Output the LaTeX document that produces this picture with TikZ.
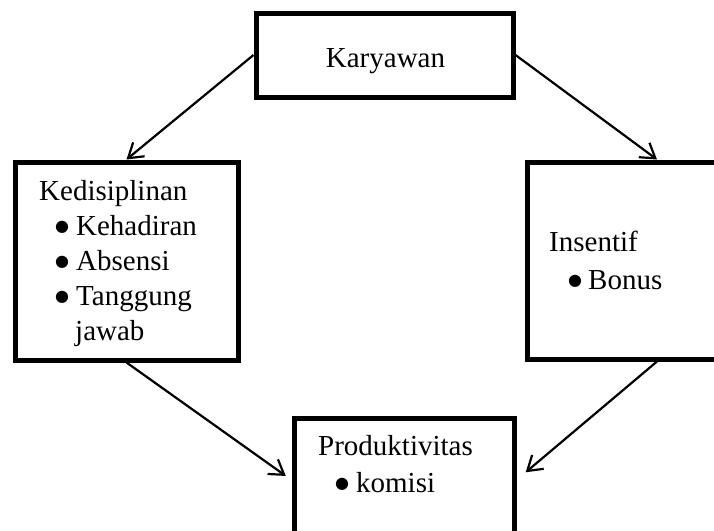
\documentclass[tikz,border=0pt]{standalone}
\usepackage{fontspec}
\setmainfont{Liberation Serif}
\newfontfamily\simbol{DejaVu Sans}
\usetikzlibrary{arrows.meta}
\newcommand{\butir}{\raisebox{4pt}{\simbol\fontsize{16}{16}\selectfont ●}}

\begin{document}
\begin{tikzpicture}[x=1pt, y=-1pt,
    font=\fontsize{29}{35}\selectfont,
    kotak/.style={draw, line width=5pt, inner sep=0pt},
    panah/.style={-{Straight Barb[length=14pt,width=18pt]}, line width=2.2pt},
    teks/.style={anchor=north west, inner sep=0pt, align=left}]
  \useasboundingbox (0,0) rectangle (714,530);
  \clip (0,0) rectangle (714,530);
  % kotak
  \node[kotak, minimum width=257pt, minimum height=84pt] (karyawan) at (384.5,55) {};
  \node[kotak, minimum width=223pt, minimum height=198pt] (disiplin) at (126.5,261) {};
  \node[kotak, minimum width=260pt, minimum height=197pt] (insentif) at (657,260.5) {};
  \node[kotak, minimum width=220pt, minimum height=124pt] (produktif) at (404,480) {};
  % teks
  \node[anchor=base, inner sep=0pt] (tKaryawan) at (385.5,67) {Karyawan};
  \node[teks] (tDisiplin) at (39,180.5) {Kedisiplinan\\
    \hspace*{16pt}\butir\hspace{7pt}Kehadiran\\
    \hspace*{16pt}\butir\hspace{7pt}Absensi\\
    \hspace*{16pt}\butir\hspace{7pt}Tanggung\\
    \hspace*{36pt}jawab};
  \node[teks] (tInsentif) at (549,230.5) {Insentif\\[3pt]
    \hspace*{19pt}\butir\hspace{6pt}Bonus};
  \node[teks] (tProduktif) at (318,435.5) {Produktivitas\\[2pt]
    \hspace*{17pt}\butir\hspace{7pt}komisi};
  % panah
  \draw[panah] (karyawan.west) -- (disiplin.north);
  \draw[panah] (karyawan.east) -- (insentif.north);
  \draw[panah, shorten >=7pt] (disiplin.south) -- (produktif.west);
  \draw[panah, shorten >=12pt] (insentif.south) -- (produktif.east);
\end{tikzpicture}
\end{document}
